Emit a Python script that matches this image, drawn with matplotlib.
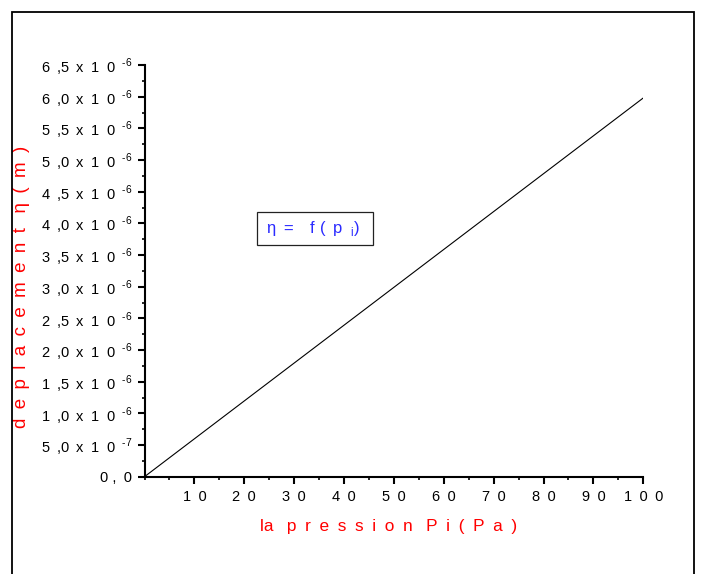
import matplotlib
matplotlib.use('Agg')
from matplotlib import pyplot as plt
from matplotlib.patches import Rectangle
from matplotlib.ticker import MultipleLocator

plt.rcParams['font.family'] = ['Liberation Sans', 'DejaVu Sans']
plt.rcParams['mathtext.fontset'] = 'custom'
plt.rcParams['mathtext.rm'] = 'Liberation Sans'

# donnees
pression = [0, 100]
deplacement = [0, 5.98e-6]

x_ticks = [10, 20, 30, 40, 50, 60, 70, 80, 90, 100]
y_ticks = [0, 0.5e-6, 1.0e-6, 1.5e-6, 2.0e-6, 2.5e-6, 3.0e-6, 3.5e-6,
           4.0e-6, 4.5e-6, 5.0e-6, 5.5e-6, 6.0e-6, 6.5e-6]
y_mant = ['0,0', '5,0', '1,0', '1,5', '2,0', '2,5', '3,0', '3,5',
          '4,0', '4,5', '5,0', '5,5', '6,0', '6,5']
y_exp = ['', '-7', '-6', '-6', '-6', '-6', '-6', '-6',
         '-6', '-6', '-6', '-6', '-6', '-6']

SP = '\u2002'  # espacement des lettres


def spaced(s):
    return SP.join(list(s))


fig = plt.figure(figsize=(7.01, 5.74), dpi=100)
ax = fig.add_axes([144.5 / 701, 1 - 476.7 / 574, (643.3 - 144.5) / 701, (476.7 - 65) / 574])

ax.plot(pression, deplacement, color='black', lw=0.8)

ax.set_xlim(0, 100)
ax.set_ylim(0, 6.5e-6)

ax.spines['top'].set_visible(False)
ax.spines['right'].set_visible(False)
ax.spines['left'].set_linewidth(1.5)
ax.spines['bottom'].set_linewidth(1.5)

ax.set_xticks(x_ticks)
ax.set_xticklabels([spaced(str(v)) for v in x_ticks])
ax.xaxis.set_minor_locator(MultipleLocator(5))
ax.set_yticks(y_ticks)
labels = []
for m, e in zip(y_mant, y_exp):
    a, b = m.split(',')
    if e:
        txt = a + SP + ',' + b + SP + 'x' + SP + '1' + SP + '0' + SP + \
            '$^{\\mathregular{\u2010' + e[1:] + '}}$'
    else:
        txt = a + ' ,' + SP + b
    labels.append(txt)
ax.set_yticklabels(labels)
ax.yaxis.set_minor_locator(MultipleLocator(0.25e-6))

ax.tick_params(which='major', length=5, width=1.5, labelsize=10.5, color='black')
ax.tick_params(which='minor', length=2.5, width=1.2)
ax.tick_params(axis='x', which='major', pad=4.5)
ax.tick_params(axis='y', which='major', pad=4)

ax.set_xlabel('la' + SP + ' ' + spaced('pression') + SP + ' ' + spaced('Pi(Pa)'),
              color='red', fontsize=12.4, va='top')
ax.xaxis.set_label_coords(0.489, -0.103)
ax.set_ylabel(spaced('deplacement') + SP + ' ' + '\u03b7' + SP + spaced('(m)'),
              color='red', fontsize=13.5)
ax.yaxis.set_label_coords(-0.2296, 0.46)

# cadre de la legende
ax.add_patch(Rectangle((0.2255, 0.5628), 0.2326, 0.0802, transform=ax.transAxes,
                       fill=False, ec='#222222', lw=0.9, clip_on=False))
ax.text(0.339, 0.604, '\u03b7' + SP + '=' + SP + SP + 'f (' + SP + 'p' + SP + '$_{\\mathregular{i}}$)',
        transform=ax.transAxes, color='#2b2bff', fontsize=12, ha='center', va='center')

fig.add_artist(Rectangle((12 / 701, -0.05), (694 - 12) / 701, 1 - 12 / 574 + 0.05,
                         transform=fig.transFigure, fill=False, lw=1.3, ec='black'))

plt.savefig('out.png', dpi=100)
